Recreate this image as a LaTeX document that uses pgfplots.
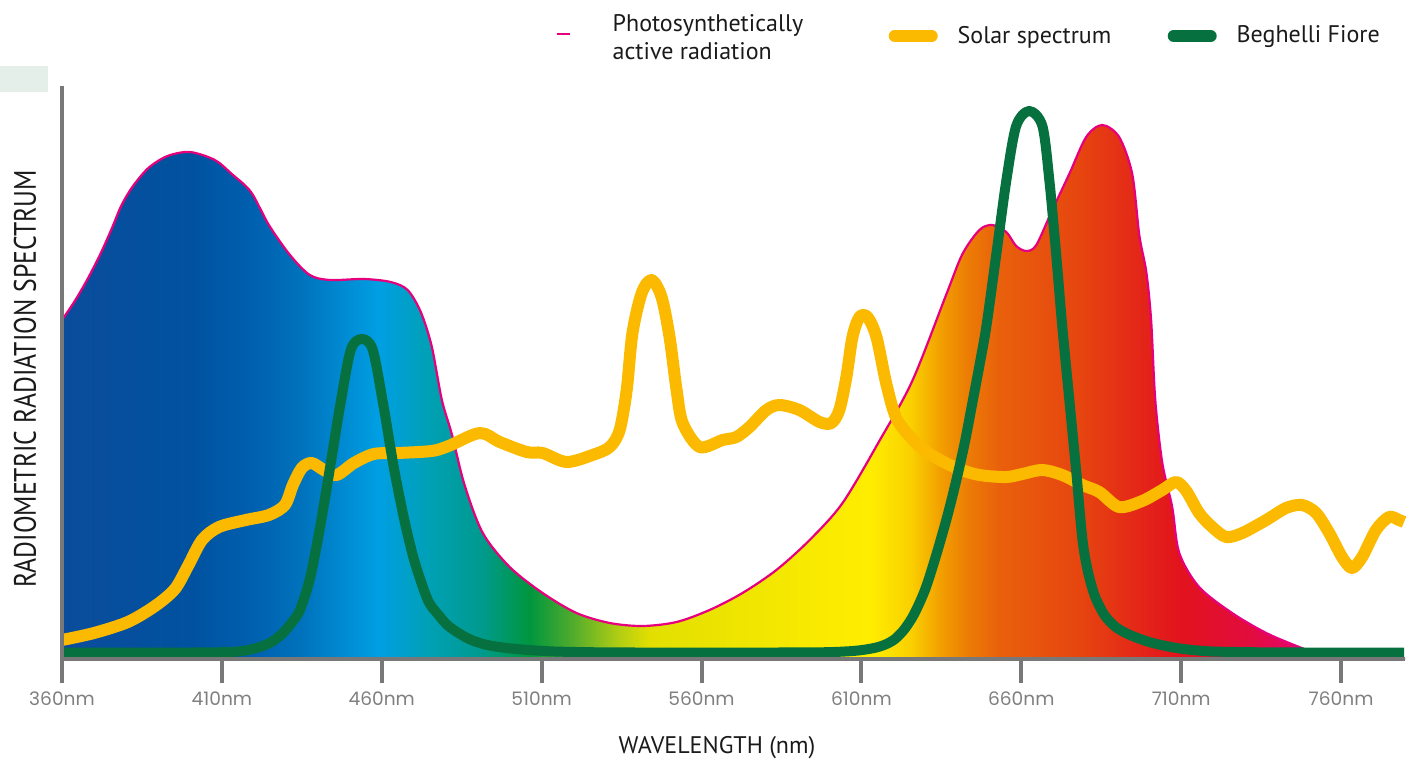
\documentclass[border=0pt]{standalone}
\usepackage{pgfplots}
\pgfplotsset{compat=1.18}
\usepackage{pgfplotstable}
\usepackage{fontspec}
\setmainfont{PT Sans}
\newfontfamily\tickfont{Poppins}

\definecolor{parline}{HTML}{E6007E}
\definecolor{solar}{HTML}{FBBA00}
\definecolor{fiore}{HTML}{06703F}
\definecolor{axisgray}{HTML}{787878}
\definecolor{tickgray}{HTML}{7F7F7F}
\definecolor{mint}{HTML}{E3EFE8}
\definecolor{txt}{HTML}{1A1A1A}

\definecolor{s1}{HTML}{0B4C9C}
\definecolor{s2}{HTML}{0052A0}
\definecolor{s3}{HTML}{005FAE}
\definecolor{s4}{HTML}{0072BC}
\definecolor{s5}{HTML}{009FE3}
\definecolor{s6}{HTML}{00A0B4}
\definecolor{s7}{HTML}{009A8E}
\definecolor{s8}{HTML}{00963E}
\definecolor{s9}{HTML}{4BAA2E}
\definecolor{s10}{HTML}{B5CF12}
\definecolor{s11}{HTML}{E2DF00}
\definecolor{s12}{HTML}{F7E900}
\definecolor{s13}{HTML}{FFED00}
\definecolor{s14}{HTML}{FAD000}
\definecolor{s15}{HTML}{F29F00}
\definecolor{s16}{HTML}{EC7A05}
\definecolor{s17}{HTML}{E9600C}
\definecolor{s18}{HTML}{E6450F}
\definecolor{s19}{HTML}{E3211A}
\definecolor{s20}{HTML}{E2131C}
\definecolor{s21}{HTML}{E20C3E}
\definecolor{s22}{HTML}{E3066A}
\definecolor{s23}{HTML}{E5007E}

\pgfdeclarehorizontalshading{spectrum}{100bp}{%
color(0bp)=(s1); color(25bp)=(s1); color(29.8bp)=(s2); color(32bp)=(s3);
color(33.9bp)=(s4); color(36.8bp)=(s5); color(38.7bp)=(s6); color(40.6bp)=(s7);
color(42.4bp)=(s8); color(43.9bp)=(s9); color(45.8bp)=(s10); color(46.9bp)=(s11);
color(52.5bp)=(s12); color(55.1bp)=(s13); color(56.6bp)=(s14); color(57.7bp)=(s15);
color(58.8bp)=(s16); color(59.9bp)=(s17); color(62.9bp)=(s18); color(65.5bp)=(s19);
color(66.6bp)=(s20); color(69.2bp)=(s21); color(71.1bp)=(s22); color(75bp)=(s23);
color(100bp)=(s23)}

\pgfplotstableread{
x y
360 339
364 358
368 380
372 405
375.5 430
378.5 453
382 472
387 491
393 503
400 507
407.8 499
413.1 485
419.1 467
424.7 434
431.3 404
437.5 384
443.8 379
454.4 380
462.8 377
468.1 369
472.2 347
475.6 313
478.8 259
481.9 225
485.9 174
491.6 126
500.0 92
510.3 66
520.9 46
531.3 36
541.6 33
552.2 37
562.5 49
572.8 66
583.4 89
593.8 119
604.1 156
615.6 218
625.9 278
636.6 365
641.6 405
646.9 429
650.9 434
655.3 427
658.4 413
661.6 408
664.7 414
669.7 449
675.0 485
680.3 522
685.3 534
690.6 522
694.7 485
696.9 424
699.1 387
700.6 339
701.9 259
704.1 196
707.2 152
709.4 106
715.6 72
725.9 46
736.6 26
746.9 12
753.1 5
760 1
770 0
780 0
}\partable

\pgfplotstableread{
x y
360.0 19
370.0 26
380.6 37
389.1 53
395.3 70
399.4 93
403.8 119
409.1 132
417.5 139
424.7 144
429.7 154
432.2 174
435.0 191
438.1 196
441.9 189
445.9 184
451.3 196
457.5 205
465.0 206
475.6 208
480.9 213
490.6 226
496.9 217
505.3 207
510.3 206
517.8 197
525.9 204
531.3 212
534.4 229
536.6 269
538.4 326
541.3 366
544.4 379
547.5 362
550.0 322
552.2 269
554.1 236
559.4 212
566.6 219
570.9 222
575.0 232
580.3 249
584.4 254
590.6 249
596.9 237
600.6 236
603.1 249
605.3 282
607.2 322
609.4 342
611.9 342
614.7 322
617.8 275
620.9 241
625.9 220
631.3 205
639.7 191
646.9 184
655.3 182
660.3 185
666.6 189
672.8 184
679.1 174
684.4 167
690.6 152
697.8 158
704.1 169
708.4 177
711.6 168
715.6 146
719.7 132
724.1 122
729.1 126
736.6 139
742.8 151
747.8 154
752.2 146
756.3 126
760.3 102
763.4 91
766.6 102
770.9 129
775.0 142
778.1 139
779.7 137
}\solartable

\pgfplotstableread{
x y
360 6.5
380 6.5
400 6.5
410 6.8
415 7.5
419 9.5
422.8 13
426 18
429.1 26
432 37
434.4 49
437.5 80
440.6 130
443.8 191
446.9 252
450.3 309
453.8 320
457.2 309
460.6 252
463.8 191
467.2 137
470.3 97
474.4 59
477.5 45
480.5 34
484 26
488 19
493 14
499 11
506 9
514 7.5
525 6.8
540 6.5
560 6.5
580 6.5
595 6.6
603 7.2
609 8.5
614 11
617.5 14.5
620.5 20
623.5 30
626.5 45
630 70
633.4 104
636.8 142
639.7 179
642.3 216
644.7 256
647 295
649.1 333
652.2 405
655.3 478
658.4 533
662.5 548
666.6 533
668.8 478
670.9 405
672.8 333
675.0 260
677.2 187
679.1 120
680.8 88
683 63
686 44
689.5 32
694 24
700 17
706 12.5
712 9.5
720 7.5
735 6.7
750 6.5
779.7 6.5
}\fioretable

\begin{document}
\begin{tikzpicture}
\path[use as bounding box] (-31pt,-56.5pt) rectangle (675pt,329.5pt);
\begin{axis}[
  at={(0,0)}, anchor=south west,
  scale only axis, width=671.5pt, height=286.5pt,
  xmin=360, xmax=780, ymin=0, ymax=573,
  axis x line=bottom, axis y line=left,
  axis line style={-, line width=2pt, color=axisgray},
  xtick={360,410,460,510,560,610,660,710,760},
  xticklabels={360nm,410nm,460nm,510nm,560nm,610nm,660nm,710nm,760nm},
  ytick=\empty,
  tick align=outside, major tick length=12pt,
  every tick/.style={axisgray, line width=2pt},
  xticklabel style={font=\tickfont\fontsize{9.3}{11}\selectfont, text=tickgray, anchor=north, yshift=-1pt},
  xlabel={WAVELENGTH (nm)},
  ylabel={\scalebox{0.83}[1]{RADIOMETRIC RADIATION SPECTRUM}},
  every axis x label/.style={at={(axis description cs:0.4877,-0.1553)}, anchor=center, font=\fontsize{12}{14}\selectfont, text=txt},
  every axis y label/.style={at={(axis description cs:-0.02755,0.4887)}, anchor=center, rotate=90, font=\fontsize{15.5}{18}\selectfont, text=txt},
  clip=false, axis on top,
  legend columns=3,
  legend style={at={(axis description cs:0.3671,1.0873)}, anchor=west, draw=none, fill=none,
     inner sep=0pt, column sep=0pt, font=\fontsize{12}{14}\selectfont, text=txt,
     nodes={inner sep=0pt}},
  legend cell align=left,
]
\fill[mint] (axis cs:340.6,567) rectangle (axis cs:355.6,593);
\addplot[forget plot, draw=none, shade, shading=spectrum, smooth, tension=0.5] table[x=x,y=y] {\partable} \closedcycle;
\addplot[forget plot, parline, line width=1.1pt, smooth, tension=0.5] table[x=x,y=y] {\partable};
\addplot[forget plot, solar, line width=6pt, line cap=butt, line join=round, smooth, tension=0.5] table[x=x,y=y] {\solartable};
\addplot[forget plot, fiore, line width=5pt, line cap=butt, line join=round, smooth, tension=0.5] table[x=x,y=y] {\fioretable};

\addlegendimage{legend image code/.code={\draw[parline, line width=1.3pt] (0pt,1pt) -- (6.5pt,1pt); \path[draw=none, fill=none] (0pt,-3pt) rectangle (28pt,3pt);}}
\addlegendentry{\raisebox{5.8pt}{\parbox[c]{138pt}{\raggedright Photosynthetically\\active radiation}}}
\addlegendimage{legend image code/.code={\draw[solar, line width=6pt, line cap=round] (3pt,0pt) -- (21.5pt,0pt); \path[draw=none, fill=none] (0pt,-3pt) rectangle (34.5pt,3pt);}}
\addlegendentry{\makebox[105pt][l]{Solar spectrum}}
\addlegendimage{legend image code/.code={\draw[fiore, line width=6pt, line cap=round] (3pt,0pt) -- (21.5pt,0pt); \path[draw=none, fill=none] (0pt,-3pt) rectangle (34.5pt,3pt);}}
\addlegendentry{Beghelli Fiore}
\end{axis}
\end{tikzpicture}
\end{document}
